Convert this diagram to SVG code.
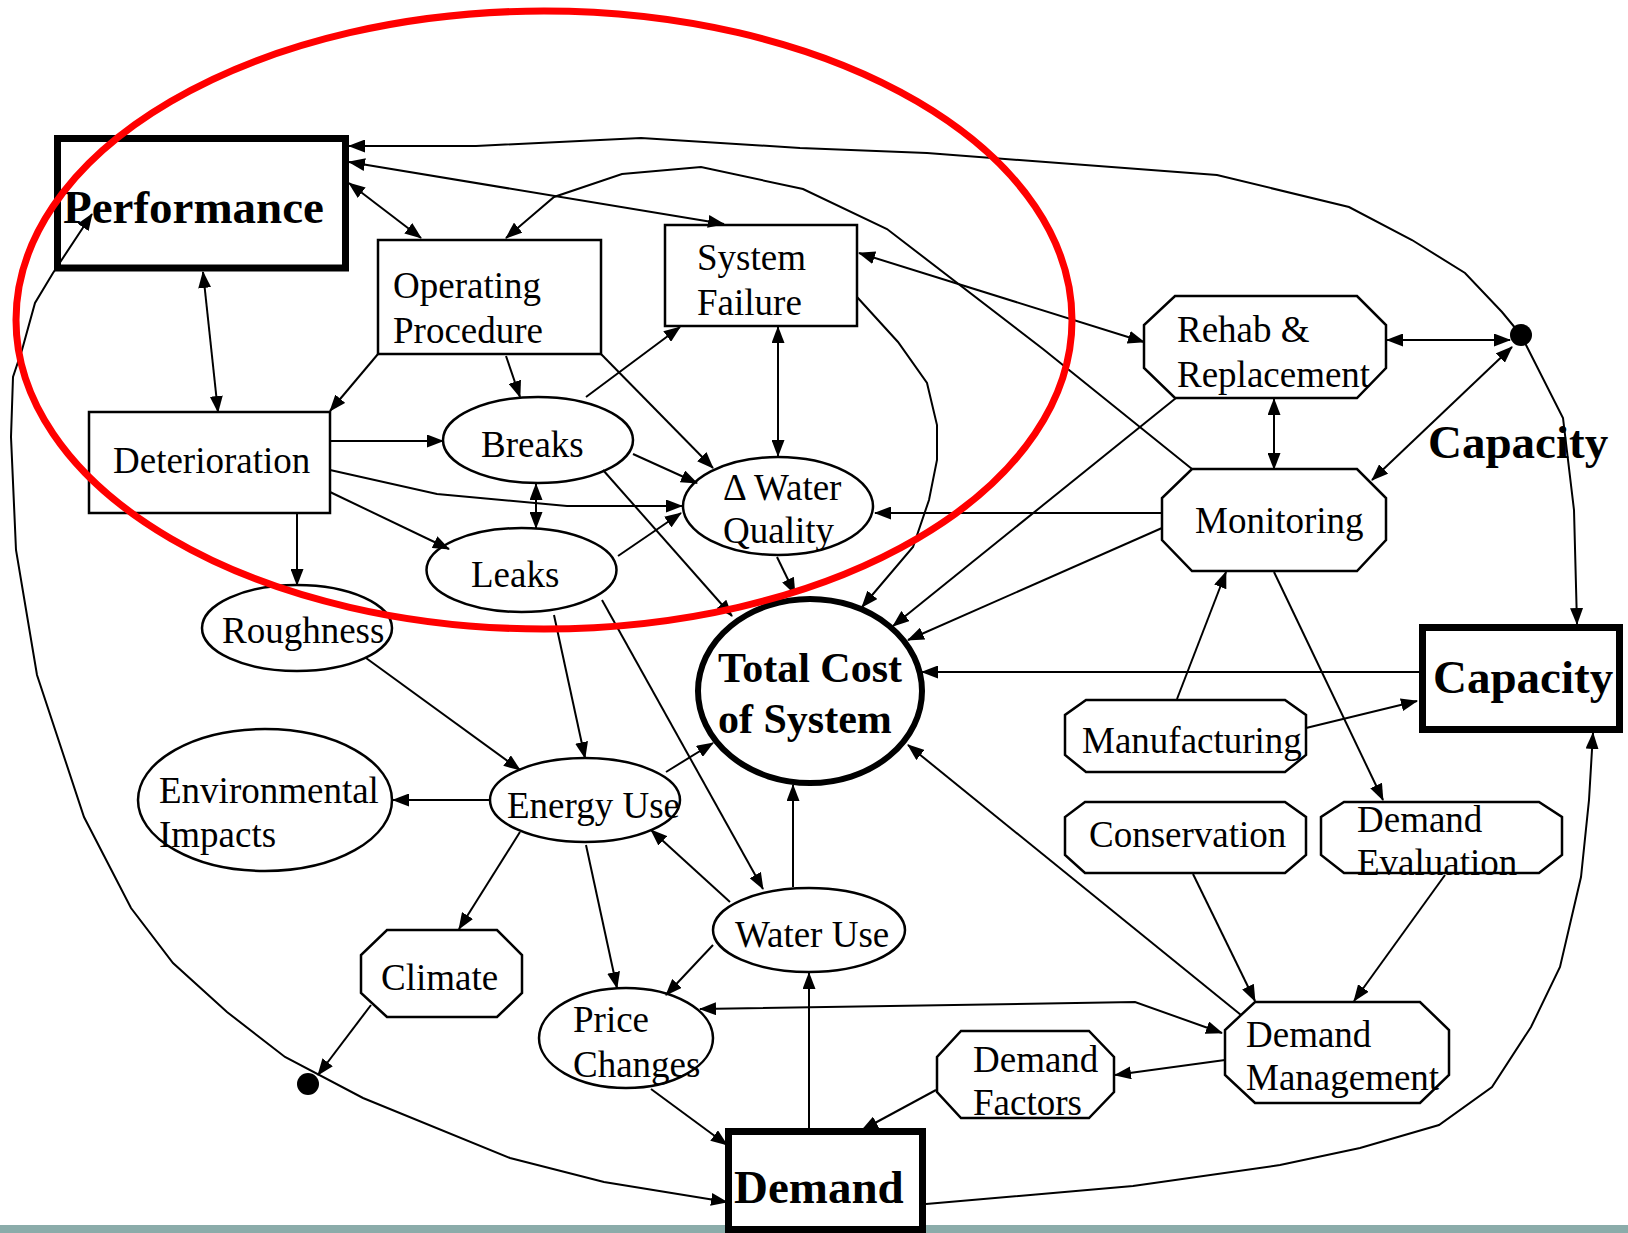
<svg xmlns="http://www.w3.org/2000/svg" width="1628" height="1233" viewBox="0 0 1628 1233">
<style>
.n{fill:#fff;stroke:#000;stroke-width:2.5}
.b{fill:#fff;stroke:#000;stroke-width:7}
.t{font-family:"Liberation Serif","Times New Roman",serif;font-size:37px;fill:#000}
.tb{font-family:"Liberation Serif","Times New Roman",serif;font-size:47px;font-weight:bold;fill:#000}
.c{fill:none;stroke:#000;stroke-width:2;marker-end:url(#ah)}
.d{marker-start:url(#ah)}
</style>
<defs>
<marker id="ah" markerUnits="userSpaceOnUse" markerWidth="17" markerHeight="13" refX="16" refY="6.5" orient="auto-start-reverse" viewBox="0 0 17 13">
<path d="M0,0 L17,6.5 L0,13 z" fill="#000"/>
</marker>
</defs>
<rect x="0" y="1225" width="1628" height="8" fill="#8BACAA"/>
<g id="nodes">
<g id="performance"><rect class="b" x="57.5" y="138.5" width="288" height="129.5"/><text class="tb" x="63" y="223">Performance</text></g>
<g id="operating-procedure"><rect class="n" x="378" y="240" width="223" height="114"/><text class="t" x="393" y="298">Operating</text><text class="t" x="393" y="343">Procedure</text></g>
<g id="system-failure"><rect class="n" x="665" y="225" width="192" height="101"/><text class="t" x="697" y="270">System</text><text class="t" x="697" y="315">Failure</text></g>
<g id="rehab"><polygon class="n" points="1175,296 1357,296 1386,325 1386,368 1357,398 1175,398 1144,368 1144,325"/><text class="t" x="1177" y="342">Rehab &amp;</text><text class="t" x="1177" y="387">Replacement</text></g>
<g id="junction-top"><circle cx="1521" cy="335" r="11" fill="#000"/></g>
<g id="capacity-label"><text class="tb" x="1428" y="458">Capacity</text></g>
<g id="monitoring"><polygon class="n" points="1192,469 1357,469 1386,498 1386,540 1357,571 1192,571 1162,540 1162,498"/><text class="t" x="1195" y="533">Monitoring</text></g>
<g id="deterioration"><rect class="n" x="89" y="412" width="241" height="101"/><text class="t" x="113" y="473">Deterioration</text></g>
<g id="breaks"><ellipse class="n" cx="538" cy="440" rx="95" ry="43"/><text class="t" x="481" y="457">Breaks</text></g>
<g id="water-quality"><ellipse class="n" cx="778" cy="506" rx="95" ry="49"/><text class="t" x="723" y="500">Δ Water</text><text class="t" x="723" y="543">Quality</text></g>
<g id="leaks"><ellipse class="n" cx="521.5" cy="570" rx="95" ry="42"/><text class="t" x="471" y="587">Leaks</text></g>
<g id="roughness"><ellipse class="n" cx="297" cy="628" rx="95" ry="43"/><text class="t" x="222" y="643">Roughness</text></g>
<g id="total-cost"><ellipse cx="810" cy="691" rx="112" ry="92" fill="#fff" stroke="#000" stroke-width="6"/><text class="tb" style="font-size:42px" x="718" y="682">Total Cost</text><text class="tb" style="font-size:42px" x="718" y="733">of System</text></g>
<g id="capacity"><rect class="b" x="1422.5" y="627.5" width="197" height="102"/><text class="tb" x="1433" y="693">Capacity</text></g>
<g id="manufacturing"><polygon class="n" points="1086,700 1285,700 1306,715 1306,755 1285,772 1086,772 1065,755 1065,715"/><text class="t" x="1082" y="753">Manufacturing</text></g>
<g id="environmental-impacts"><ellipse class="n" cx="265" cy="800" rx="127" ry="71"/><text class="t" x="159" y="803">Environmental</text><text class="t" x="159" y="847">Impacts</text></g>
<g id="energy-use"><ellipse class="n" cx="585" cy="800" rx="95" ry="42"/><text class="t" x="507" y="818">Energy Use</text></g>
<g id="conservation"><polygon class="n" points="1085,802 1285,802 1306,817 1306,855 1285,873 1085,873 1065,855 1065,817"/><text class="t" x="1089" y="847">Conservation</text></g>
<g id="demand-evaluation"><polygon class="n" points="1344,802 1539,802 1562,817 1562,855 1539,873 1344,873 1321,855 1321,817"/><text class="t" x="1357" y="832">Demand</text><text class="t" x="1357" y="875">Evaluation</text></g>
<g id="water-use"><ellipse class="n" cx="809" cy="930" rx="96" ry="42"/><text class="t" x="735" y="947">Water Use</text></g>
<g id="climate"><polygon class="n" points="387,930 497,930 522,955 522,993 497,1017 387,1017 361,993 361,955"/><text class="t" x="381" y="990">Climate</text></g>
<g id="price-changes"><ellipse class="n" cx="626" cy="1038" rx="87" ry="50"/><text class="t" x="573" y="1032">Price</text><text class="t" x="573" y="1077">Changes</text></g>
<g id="demand-management"><polygon class="n" points="1255,1002 1420,1002 1449,1030 1449,1075 1420,1103 1255,1103 1225,1075 1225,1030"/><text class="t" x="1246" y="1047">Demand</text><text class="t" x="1246" y="1090">Management</text></g>
<g id="demand-factors"><polygon class="n" points="961,1031 1089,1031 1114,1057 1114,1092 1089,1118 961,1118 937,1092 937,1057"/><text class="t" x="973" y="1072">Demand</text><text class="t" x="973" y="1115">Factors</text></g>
<g id="junction-bottom"><circle cx="308" cy="1084" r="11" fill="#000"/></g>
<g id="demand"><rect class="b" x="728.5" y="1131.5" width="194" height="98"/><text class="tb" x="734" y="1203">Demand</text></g>
</g>
<g id="connectors">
<path class="c" d="M1521,335 L1502,312 L1465,273 L1412,240 L1349,207 L1217,175 L927,153 L800,148 L641,138 L476,146 L349,146"/>
<path class="c" d="M1521,335 L1563,418 L1574,510 L1577,624"/>
<path class="c d" d="M1387,340 L1510,340"/>
<path class="c d" d="M1372,480 L1512,347"/>
<path class="c d" d="M349,183 L421,238"/>
<path class="c d" d="M349,162 L724,224"/>
<path class="c" d="M1192,469 L1043,349 L887,229 L803,189 L701,167 L622,174 L554,197 L506,238"/>
<path class="c" d="M857,297 L898,342 L927,383 L937,425 L937,460 L929,500 L913,547 L862,607"/>
<path class="c" d="M1176,398 L893,626"/>
<path class="c" d="M1162,528 L908,640"/>
<path class="c" d="M1162,513 L875,513"/>
<path class="c" d="M1419,672 L922,672"/>
<path class="c" d="M1177,699 L1226,572"/>
<path class="c" d="M1306,728 L1417,701"/>
<path class="c" d="M1274,572 L1383,800"/>
<path class="c d" d="M1274,399 L1274,469"/>
<path class="c d" d="M859,253 L1144,342"/>
<path class="c d" d="M778,327 L778,456"/>
<path class="c" d="M586,397 L680,327"/>
<path class="c" d="M601,354 L713,468"/>
<path class="c" d="M506,356 L520,397"/>
<path class="c" d="M378,354 L330,411"/>
<path class="c d" d="M203,272 L218,412"/>
<path class="c" d="M330,441 L443,441"/>
<path class="c" d="M330,470 L437,494 L567,506 L682,506"/>
<path class="c" d="M330,492 L449,549"/>
<path class="c" d="M297,513 L297,585"/>
<path class="c" d="M633,454 L697,483"/>
<path class="c d" d="M536,484 L536,528"/>
<path class="c" d="M618,556 L681,513"/>
<path class="c" d="M603,470 L732,616"/>
<path class="c" d="M777,557 L795,594"/>
<path class="c" d="M554,615 L585,758"/>
<path class="c" d="M602,600 L763,889"/>
<path class="c" d="M366,658 L520,770"/>
<path class="c" d="M489,800 L393,800"/>
<path class="c" d="M666,772 L713,743"/>
<path class="c" d="M520,832 L459,929"/>
<path class="c" d="M586,845 L617,988"/>
<path class="c" d="M730,902 L651,830"/>
<path class="c" d="M793,887 L793,785"/>
<path class="c" d="M713,945 L666,995"/>
<path class="c" d="M809,1128 L809,973"/>
<path class="c d" d="M700,1009 L1135,1002 L1222,1033"/>
<path class="c" d="M1241,1015 L908,745"/>
<path class="c" d="M1193,874 L1255,1001"/>
<path class="c" d="M1445,875 L1354,1001"/>
<path class="c" d="M1225,1060 L1115,1075"/>
<path class="c" d="M936,1090 L862,1130"/>
<path class="c" d="M651,1089 L727,1145"/>
<path class="c" d="M371,1005 L318,1075"/>
<path class="c d" d="M727,1202 L604,1182 L510,1158 L363,1098 L285,1057 L227,1012 L173,963 L131,908 L84,817 L37,675 L16,550 L11,437 L13,377 L22,350 L35,303 L53,273 L92,214"/>
<path class="c" d="M926,1204 L1133,1186 L1280,1165 L1360,1148 L1439,1125 L1492,1087 L1531,1027 L1560,967 L1581,877 L1589,800 L1593,733"/>
</g>
<ellipse id="highlight" cx="544" cy="320" rx="528" ry="309" fill="none" stroke="#FF0000" stroke-width="7"/>
</svg>
